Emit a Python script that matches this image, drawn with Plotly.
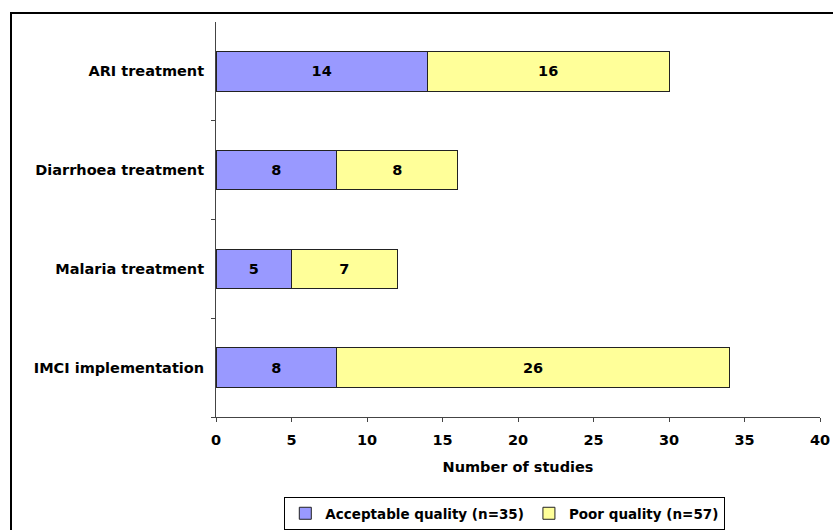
import plotly.graph_objects as go

categories = ["ARI treatment", "Diarrhoea treatment", "Malaria treatment", "IMCI implementation"]
acceptable = [14, 8, 5, 8]
poor = [16, 8, 7, 26]
x_ticks = [0, 5, 10, 15, 20, 25, 30, 35, 40]

font_family = "DejaVu Sans"
fsize = 14.5
bold_black = dict(family=font_family, size=fsize, color="black")

fig = go.Figure()
fig.add_trace(go.Bar(
    y=categories, x=acceptable, orientation="h",
    name="<b>Acceptable quality (n=35)</b>",
    marker=dict(color="#9999FF", line=dict(color="#222222", width=1)),
    text=[f"<b>{v}</b>" for v in acceptable], textposition="inside",
    insidetextanchor="middle", textfont=bold_black,
))
fig.add_trace(go.Bar(
    y=categories, x=poor, orientation="h",
    name="<b>Poor quality (n=57)</b>",
    marker=dict(color="#FFFF99", line=dict(color="#222222", width=1)),
    text=[f"<b>{v}</b>" for v in poor], textposition="inside",
    insidetextanchor="middle", textfont=bold_black,
))

fig.update_layout(
    width=833, height=530,
    barmode="stack", bargap=0.6,
    margin=dict(l=216, r=13, t=22, b=113, autoexpand=False),
    paper_bgcolor="white", plot_bgcolor="white",
    font=dict(family=font_family, size=fsize, color="black"),
    uniformtext=dict(minsize=fsize, mode="show"),
    showlegend=True,
    legend=dict(
        orientation="h", traceorder="normal",
        xref="container", yref="container",
        x=0.606, xanchor="center", y=-0.006, yanchor="bottom",
        bordercolor="black", borderwidth=1, bgcolor="white",
        font=dict(family=font_family, size=13.5, color="black"),
        itemwidth=30, tracegroupgap=0,
    ),
    xaxis=dict(
        range=[0, 40], tickvals=x_ticks,
        ticktext=[f"<b>{t}</b>" for t in x_ticks],
        ticks="outside", ticklen=4, tickcolor="#444444",
        showline=True, linecolor="#444444", linewidth=1,
        showgrid=False, zeroline=False, automargin=False,
        ticklabelstandoff=6,
        title=dict(text="<b>Number of studies</b>", standoff=14,
                   font=dict(family=font_family, size=fsize)),
    ),
    yaxis=dict(
        categoryorder="array", categoryarray=categories[::-1],
        ticktext=[f"<b>{c}</b>" for c in categories], tickvals=categories,
        ticks="outside", ticklen=4, tickson="boundaries", tickcolor="#444444",
        showline=True, linecolor="#444444", linewidth=1,
        showgrid=False, ticklabelstandoff=8, automargin=False,
    ),
    shapes=[dict(
        type="rect", xref="paper", yref="paper",
        x0=(11 - 216) / 604, x1=(845 - 216) / 604,
        y0=(417 - 545) / 395, y1=(417 - 13) / 395,
        line=dict(color="black", width=2), fillcolor="rgba(0,0,0,0)",
        layer="below",
    )],
)

fig.write_html("out.html")
